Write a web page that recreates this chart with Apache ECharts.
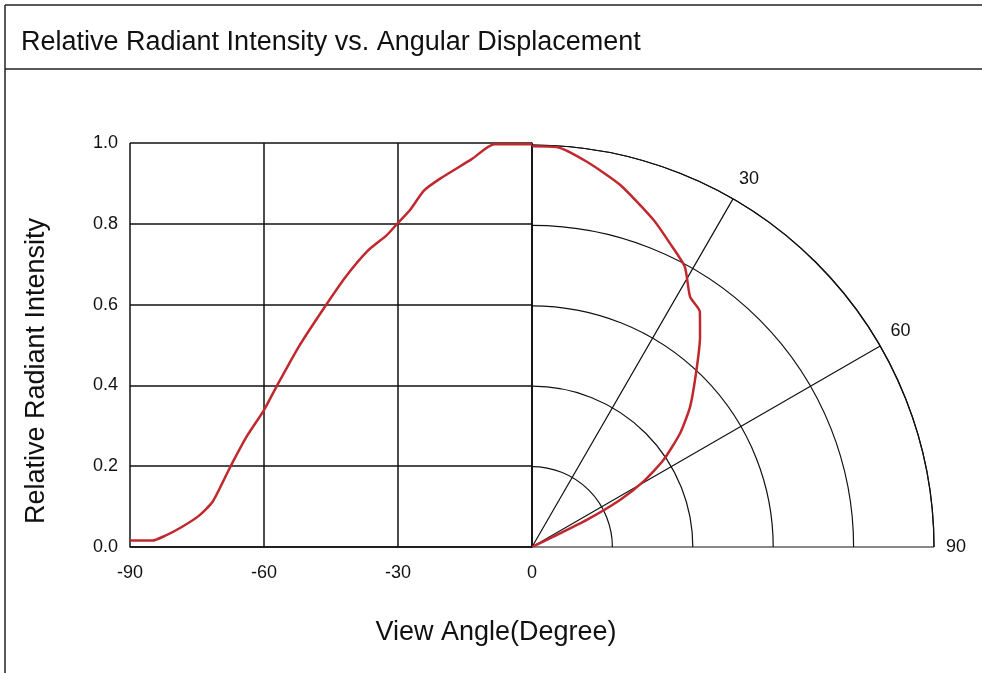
<!DOCTYPE html>
<html>
<head>
<meta charset="utf-8">
<script src="https://cdn.jsdelivr.net/npm/echarts@6/dist/echarts.min.js"></script>
<style>
  html, body { margin: 0; padding: 0; background: #fff; }
  #chart { width: 982px; height: 673px; }
</style>
</head>
<body>
<div id="chart"></div>
<script>
// left half: cartesian, [angle, intensity]
var leftAngles = [-90, -85, -82.3, -78.5, -74.6, -71.5, -67.7, -63.9, -60, -57.2, -52.2, -46.6, -41.7, -36.8, -32.5, -30.1, -27.3, -24.2, -20.4, -13.5, -8.5, 0];
var leftValues = [0.016, 0.016, 0.027, 0.049, 0.077, 0.112, 0.195, 0.273, 0.339, 0.397, 0.496, 0.591, 0.669, 0.733, 0.772, 0.801, 0.834, 0.882, 0.913, 0.960, 0.997, 0.997];

// right half: polar, angle from vertical and radius
var rightAngles = [0, 3.5, 8.1, 13.7, 20.4, 24.4, 28.6, 32.3, 35.5, 38.6, 42.9, 48.4, 52.5, 56.5, 59.6, 61.9, 63.7, 64.2, 64.5];
var rightRadius = [0.997, 0.997, 0.968, 0.927, 0.868, 0.830, 0.794, 0.736, 0.719, 0.670, 0.601, 0.526, 0.464, 0.392, 0.321, 0.248, 0.152, 0.059, 0];

var xTicks = [-90, -60, -30, 0];
var yTicks = [0, 0.2, 0.4, 0.6, 0.8, 1.0];
var angleTicks = [30, 60, 90];

var leftData = leftAngles.map(function (a, i) { return [a, leftValues[i]]; });
var rightData = rightAngles.map(function (a, i) { return [rightRadius[i], a]; });

var chart = echarts.init(document.getElementById('chart'));
var black = '#111';
var font = 'Liberation Sans, Arial, sans-serif';

chart.setOption({
    animation: false,
    backgroundColor: '#fff',
    grid: {left: 130, right: 450, top: 143, bottom: 126},
    xAxis: {
        type: 'value', min: -90, max: 0, interval: 30,
        axisLine: {show: true, lineStyle: {color: black, width: 1.5}},
        axisTick: {show: false},
        splitLine: {show: true, lineStyle: {color: black, width: 1.5}},
        axisLabel: {
            color: '#111', fontSize: 18, fontFamily: font, margin: 17,
            formatter: function (v) { return xTicks.indexOf(v) >= 0 ? String(v) : ''; }
        }
    },
    yAxis: {
        type: 'value', min: 0, max: 1, interval: 0.2,
        axisLine: {show: true, lineStyle: {color: black, width: 1.5}},
        axisTick: {show: false},
        splitLine: {show: true, lineStyle: {color: black, width: 1.5}},
        axisLabel: {
            color: '#111', fontSize: 18, fontFamily: font, margin: 12,
            formatter: function (v) { return v.toFixed(1); }
        }
    },
    polar: {center: [532, 547], radius: [0, 402]},
    angleAxis: {
        type: 'value', min: 0, max: 90, interval: 30,
        startAngle: 90, endAngle: 0, clockwise: true,
        axisLine: {show: true, lineStyle: {color: black, width: 1.2}},
        axisTick: {show: false},
        splitLine: {show: true, lineStyle: {color: black, width: 1.2}},
        axisLabel: {
            color: '#111', fontSize: 18, fontFamily: font, margin: 12,
            formatter: function (v) { return angleTicks.indexOf(v) >= 0 ? String(v) : ''; }
        }
    },
    radiusAxis: {
        type: 'value', min: 0, max: 1, interval: 0.2,
        axisLine: {show: false},
        axisTick: {show: false},
        axisLabel: {show: false},
        splitLine: {show: true, lineStyle: {color: black, width: 1.2}}
    },
    series: [
        {
            type: 'line', coordinateSystem: 'cartesian2d', data: leftData,
            symbol: 'none', smooth: 0.2,
            lineStyle: {color: '#c0282e', width: 2.5}
        },
        {
            type: 'line', coordinateSystem: 'polar', data: rightData,
            symbol: 'none', smooth: 0.2,
            lineStyle: {color: '#c0282e', width: 2.5}
        }
    ],
    graphic: [
        {type: 'line', shape: {x1: 5, y1: 5, x2: 982, y2: 5}, style: {stroke: '#222', lineWidth: 1.5}},
        {type: 'line', shape: {x1: 5, y1: 5, x2: 5, y2: 673}, style: {stroke: '#222', lineWidth: 1.5}},
        {type: 'line', shape: {x1: 5, y1: 69, x2: 982, y2: 69}, style: {stroke: '#222', lineWidth: 1.5}},
        {
            type: 'text', x: 21, y: 43,
            style: {text: 'Relative Radiant Intensity vs. Angular Displacement', fill: '#111', font: '27px ' + font, verticalAlign: 'middle'}
        },
        {
            type: 'text', x: 37, y: 371, rotation: Math.PI / 2,
            style: {text: 'Relative Radiant Intensity', fill: '#111', font: '27px ' + font, align: 'center', verticalAlign: 'middle'}
        },
        {
            type: 'text', x: 496, y: 633,
            style: {text: 'View Angle(Degree)', fill: '#111', font: '27px ' + font, align: 'center', verticalAlign: 'middle'}
        }
    ]
});
</script>
</body>
</html>
